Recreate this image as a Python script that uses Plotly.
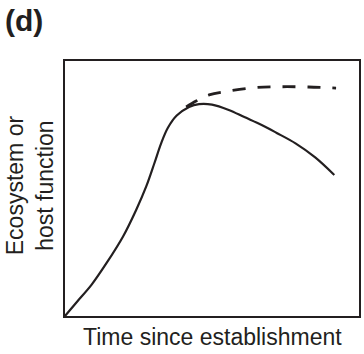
import plotly.graph_objects as go

# Time axis (arbitrary units) and function level for the declining trajectory
time_solid = [0, 4.1, 9.0, 14.1, 19.7, 24.2, 27.6, 30.4, 32.7, 35.0, 38.0, 42.2,
              45.6, 50.0, 55.7, 61.0, 66.9, 72.0, 78.4, 85.1, 91.6]
func_solid = [0, 5.6, 12.2, 20.7, 31.1, 41.6, 50.7, 59.9, 67.7, 73.8, 78.6, 82.0,
              83.1, 82.9, 80.8, 78.0, 74.9, 71.8, 67.7, 62.2, 55.3]

# Alternative trajectory that keeps rising to a plateau
time_dashed = [41.2, 44.6, 49.0, 55.7, 64.9, 73.6, 82.8, 92.2]
func_dashed = [82.0, 84.3, 86.7, 88.2, 89.6, 89.9, 89.8, 89.4]

FONT = "Liberation Sans, Arial, sans-serif"

fig = go.Figure()
fig.add_trace(go.Scatter(
    x=time_solid, y=func_solid, mode="lines",
    line=dict(color="#231f20", width=2.2, shape="spline", smoothing=1.0),
    hoverinfo="skip", showlegend=False,
))
fig.add_trace(go.Scatter(
    x=time_dashed, y=func_dashed, mode="lines",
    line=dict(color="#231f20", width=2.8, shape="spline", smoothing=1.0, dash="13px,12px"),
    hoverinfo="skip", showlegend=False,
))

axis_common = dict(
    showgrid=False, zeroline=False, showticklabels=False, ticks="",
    showline=True, mirror=True, linecolor="#231f20", linewidth=2,
)
fig.update_xaxes(range=[0, 100], **axis_common)
fig.update_yaxes(range=[0, 100], **axis_common)

fig.add_annotation(
    text="Time since establishment", xref="paper", yref="paper",
    x=0.5, y=-0.084, xanchor="center", yanchor="middle", showarrow=False,
    font=dict(family=FONT, size=23, color="#231f20"),
)
fig.add_annotation(
    text="Ecosystem or<br>host function", xref="paper", yref="paper",
    x=-0.118, y=0.514, xanchor="center", yanchor="middle", showarrow=False,
    textangle=-90, font=dict(family=FONT, size=23, color="#231f20"),
)
fig.add_annotation(
    text="<b>(d)</b>", xref="paper", yref="paper",
    x=-0.14, y=1.157, xanchor="center", yanchor="middle", showarrow=False,
    font=dict(family=FONT, size=30, color="#231f20"),
)

fig.update_layout(
    width=364, height=354,
    margin=dict(l=65, r=3, t=61, b=38),
    paper_bgcolor="white", plot_bgcolor="white",
)

fig.write_html("out.html")
